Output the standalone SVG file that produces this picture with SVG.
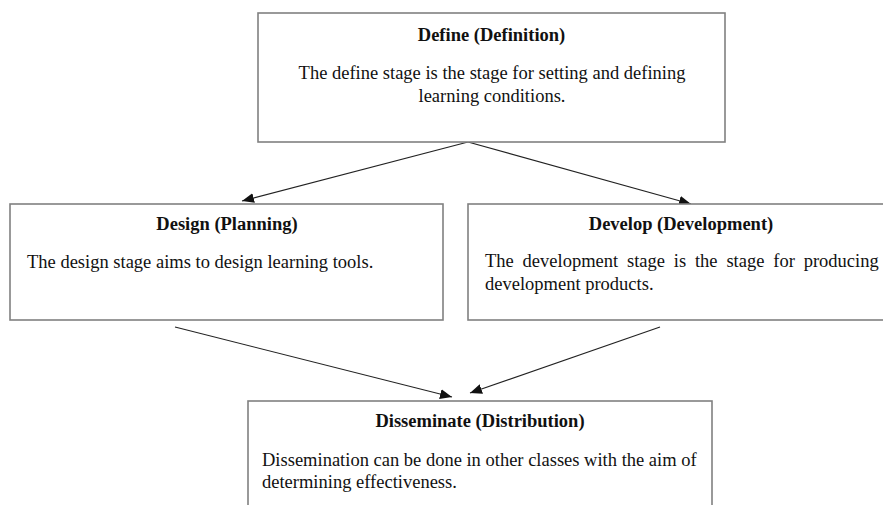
<svg xmlns="http://www.w3.org/2000/svg" width="883" height="505" viewBox="0 0 883 505">
<style>
.box{fill:#fff;stroke:#808080;stroke-width:1.6}
.t{font-family:"Liberation Serif","Times New Roman",serif;font-size:18.5px;font-weight:bold;fill:#111;text-anchor:middle}
.b{font-family:"Liberation Serif","Times New Roman",serif;font-size:18.5px;fill:#111}
.c{text-anchor:middle}
.e{fill:none;stroke:#222;stroke-width:1.1}
</style>
<defs>
<marker id="ah" viewBox="0 0 12 10" refX="12" refY="5" markerWidth="12" markerHeight="10" markerUnits="userSpaceOnUse" orient="auto">
<path d="M0,0 L12,5 L0,10 z" fill="#111"/>
</marker>
</defs>
<g id="connectors">
<line class="e" x1="468" y1="142" x2="242" y2="201" marker-end="url(#ah)"/>
<line class="e" x1="468" y1="142" x2="691" y2="204" marker-end="url(#ah)"/>
<line class="e" x1="175" y1="327" x2="452" y2="397" marker-end="url(#ah)"/>
<line class="e" x1="660" y1="327" x2="470" y2="393" marker-end="url(#ah)"/>
</g>
<g id="define">
<rect class="box" x="258" y="13" width="467" height="129"/>
<text class="t" x="491.5" y="41">Define (Definition)</text>
<text class="b c" x="492" y="79">The define stage is the stage for setting and defining</text>
<text class="b c" x="492" y="102">learning conditions.</text>
</g>
<g id="design">
<rect class="box" x="10" y="204" width="433" height="116"/>
<text class="t" x="227" y="230">Design (Planning)</text>
<text class="b" x="27" y="268">The design stage aims to design learning tools.</text>
</g>
<g id="develop">
<rect class="box" x="468" y="204" width="430" height="116"/>
<text class="t" x="681" y="230">Develop (Development)</text>
<text class="b" x="485" y="267" word-spacing="4.2">The development stage is the stage for producing</text>
<text class="b" x="485" y="290">development products.</text>
</g>
<g id="disseminate">
<rect class="box" x="248" y="401" width="464" height="120"/>
<text class="t" x="480" y="427">Disseminate (Distribution)</text>
<text class="b" x="262" y="466">Dissemination can be done in other classes with the aim of</text>
<text class="b" x="262" y="488">determining effectiveness.</text>
</g>
</svg>
